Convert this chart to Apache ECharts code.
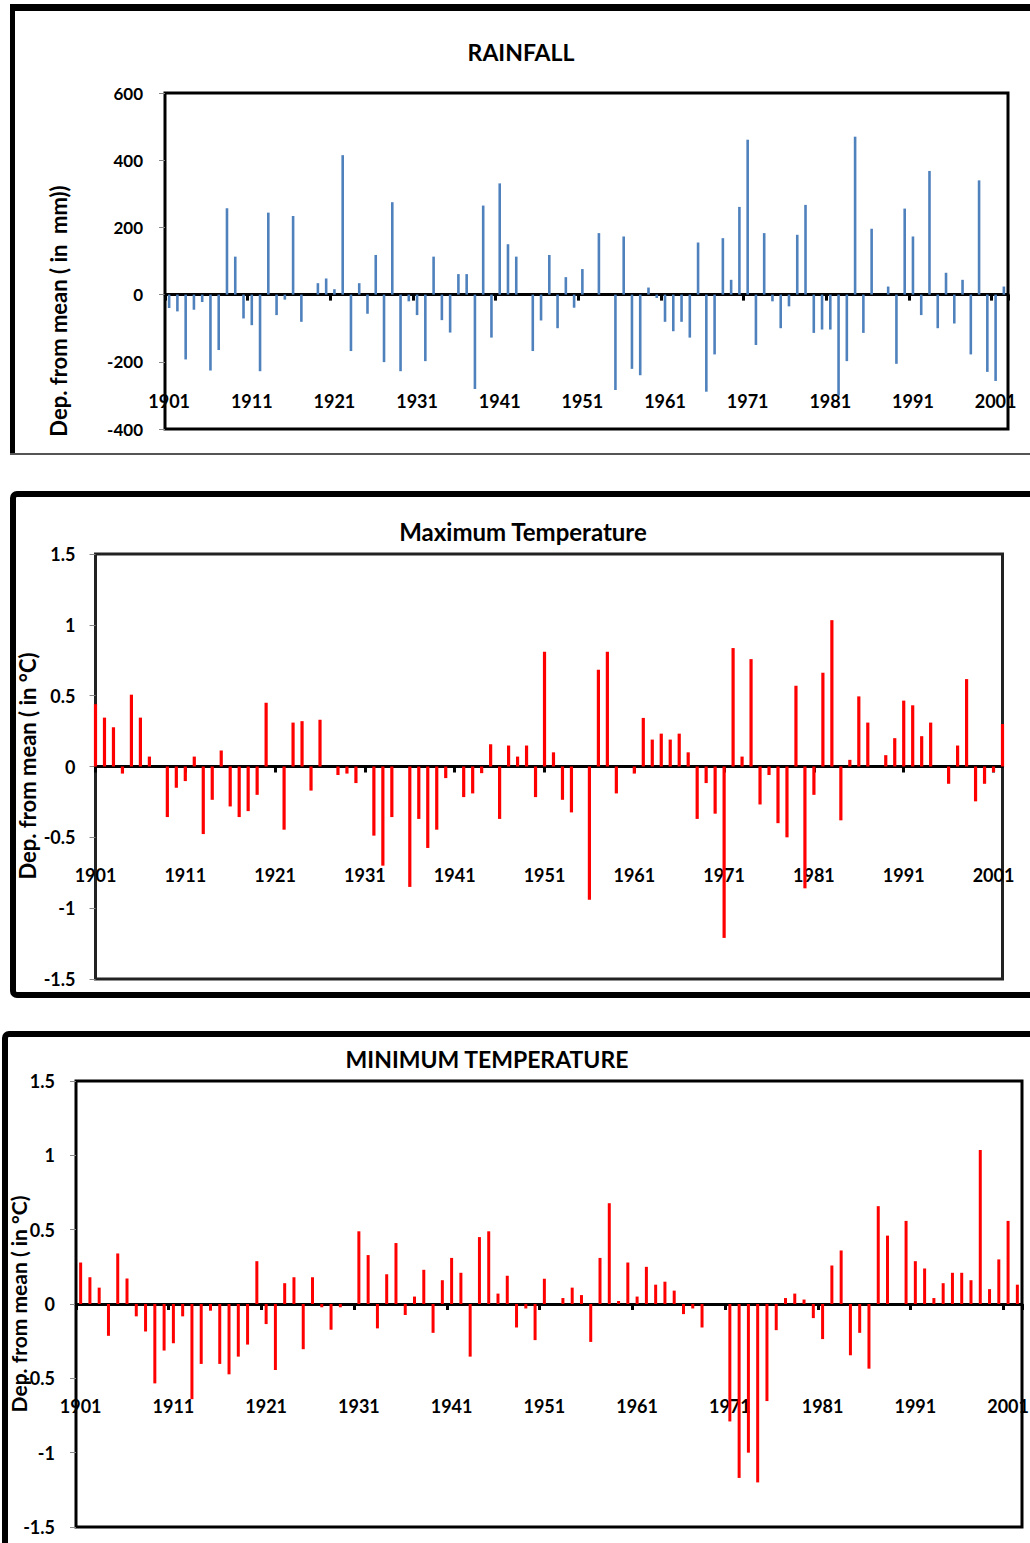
<!DOCTYPE html>
<html>
<head>
<meta charset="utf-8">
<script src="https://cdn.jsdelivr.net/npm/echarts@6/dist/echarts.min.js"></script>
<style>
html,body{margin:0;padding:0;background:#fff;}
#c{width:1030px;height:1543px;}
</style>
</head>
<body>
<div id="c"></div>
<script>
// Categories: years 1901-2002
var years = [];
for (var y = 1901; y <= 2002; y++) years.push(String(y));

// Titles
var titles = ['RAINFALL', 'Maximum Temperature', 'MINIMUM TEMPERATURE'];
var yTitles = ['Dep. from mean ( in  mm))', 'Dep. from mean ( in °C)', 'Dep. from mean ( in °C)'];

// Rainfall departure (mm)
var rainfall = [
 -40, -50, -193, -45, -22, -226, -165, 257, 113, -71,
 -91, -228, 244, -61, -15, 234, -81, 0, 34, 48,
 16, 415, -168, 34, -57, 118, -201, 275, -228, -20,
 -61, -198, 113, -76, -113, 61, 61, -281, 265, -128,
 331, 150, 113, 0, -168, -77, 118, -100, 52, -39,
 76, 0, 183, 0, -284, 173, -221, -240, 21, -10,
 -81, -109, -81, -128, 155, -289, -178, 168, 44, 261,
 461, -150, 183, -20, -100, -35, 178, 267, -114, -104,
 -104, -300, -198, 470, -114, 196, 0, 24, -206, 256,
 173, -61, 368, -100, 65, -86, 44, -178, 340, -230,
 -257, 24
];

// Maximum temperature departure (°C)
var maxTemp = [
 0.44, 0.345, 0.277, -0.05, 0.507, 0.345, 0.07, 0, -0.357, -0.15,
 -0.103, 0.07, -0.477, -0.235, 0.113, -0.282, -0.357, -0.315, -0.20, 0.45,
 0, -0.446, 0.31, 0.32, -0.17, 0.33, 0, -0.06, -0.05, -0.117,
 0, -0.488, -0.70, -0.357, 0, -0.85, -0.37, -0.575, -0.446, -0.082,
 0, -0.216, -0.19, -0.047, 0.157, -0.37, 0.148, 0.07, 0.148, -0.216,
 0.81, 0.10, -0.235, -0.324, 0, -0.94, 0.683, 0.81, -0.19, 0,
 -0.05, 0.343, 0.19, 0.232, 0.19, 0.232, 0.10, -0.37, -0.117, -0.333,
 -1.21, 0.836, 0.07, 0.758, -0.268, -0.06, -0.40, -0.50, 0.57, -0.86,
 -0.2, 0.662, 1.033, -0.38, 0.047, 0.495, 0.31, 0, 0.08, 0.20,
 0.465, 0.432, 0.214, 0.31, 0, -0.122, 0.148, 0.617, -0.246, -0.122,
 -0.04, 0.30
];

// Minimum temperature departure (°C)
var minTemp = [
 0.279, 0.18, 0.11, -0.214, 0.34, 0.171, -0.083, -0.185, -0.534, -0.313,
 -0.264, -0.083, -0.64, -0.403, -0.045, -0.403, -0.473, -0.354, -0.273, 0.288,
 -0.135, -0.444, 0.14, 0.18, -0.304, 0.18, -0.022, -0.173, -0.022, 0,
 0.489, 0.329, -0.164, 0.20, 0.41, -0.074, 0.05, 0.23, -0.194, 0.16,
 0.31, 0.21, -0.354, 0.45, 0.489, 0.07, 0.19, -0.158, -0.03, -0.243,
 0.17, 0, 0.04, 0.11, 0.06, -0.255, 0.31, 0.678, 0.02, 0.279,
 0.05, 0.25, 0.13, 0.15, 0.09, -0.068, -0.03, -0.158, 0, 0,
 -0.79, -1.17, -1.0, -1.2, -0.653, -0.176, 0.04, 0.07, 0.03, -0.095,
 -0.236, 0.259, 0.36, -0.345, -0.194, -0.435, 0.658, 0.46, 0, 0.559,
 0.288, 0.239, 0.04, 0.14, 0.21, 0.21, 0.16, 1.036, 0.10, 0.30,
 0.559, 0.13
];

// Y axis scales
var rainAxis = {min: -400, max: 600, interval: 200};
var tempAxis = {min: -1.5, max: 1.5, interval: 0.5};

var FONT = 'Lato, "Open Sans", sans-serif';
var chart = echarts.init(document.getElementById('c'), null, {renderer: 'svg', width: 1030, height: 1543});

function xAx(gi, gap, margin) {
  return {
    type: 'category', gridIndex: gi, data: years, boundaryGap: gap,
    axisLine: {show: true, onZero: true, lineStyle: {color: '#000', width: 3}},
    axisTick: {show: true, interval: 9, alignWithLabel: false, length: 6, lineStyle: {color: '#000', width: 3}},
    axisLabel: {interval: 9, margin: margin, color: '#000', fontFamily: FONT, fontWeight: 'bold', fontSize: 18},
    splitLine: {show: false}
  };
}
function yAx(gi, sc, margin, fs) {
  return {
    type: 'value', gridIndex: gi, min: sc.min, max: sc.max, interval: sc.interval,
    axisLine: {show: false},
    axisTick: {show: true, length: 6, lineStyle: {color: '#888', width: 1}},
    axisLabel: {margin: margin, color: '#000', fontFamily: FONT, fontWeight: 'bold', fontSize: fs},
    splitLine: {show: false}
  };
}

var option = {
  animation: false,
  backgroundColor: '#fff',
  grid: [
    {left: 165, top: 93, width: 843, height: 336, show: true, borderColor: '#000', borderWidth: 3, backgroundColor: 'transparent', outerBoundsMode: 'none', containLabel: false},
    {left: 95.5, top: 554, width: 907, height: 425, show: true, borderColor: '#222', borderWidth: 3, backgroundColor: 'transparent', outerBoundsMode: 'none', containLabel: false},
    {left: 76, top: 1081, width: 946, height: 446, show: true, borderColor: '#000', borderWidth: 3, backgroundColor: 'transparent', outerBoundsMode: 'none', containLabel: false}
  ],
  xAxis: [xAx(0, true, -37), xAx(1, false, -113), xAx(2, true, -130)],
  yAxis: [yAx(0, rainAxis, 22, 17), yAx(1, tempAxis, 20, 18), yAx(2, tempAxis, 21, 18)],
  series: [
    {type: 'bar', xAxisIndex: 0, yAxisIndex: 0, data: rainfall, barWidth: 2.6, itemStyle: {color: '#4F81BD'}},
    {type: 'bar', xAxisIndex: 1, yAxisIndex: 1, data: maxTemp, barWidth: 3.2, itemStyle: {color: '#FF0000'}},
    {type: 'bar', xAxisIndex: 2, yAxisIndex: 2, data: minTemp, barWidth: 3, itemStyle: {color: '#FF0000'}}
  ],
  graphic: [
    // panel 1 frame
    {type: 'line', shape: {x1: 10, y1: 7.5, x2: 1040, y2: 7.5}, style: {stroke: '#000', lineWidth: 7}},
    {type: 'line', shape: {x1: 12.5, y1: 4, x2: 12.5, y2: 454}, style: {stroke: '#000', lineWidth: 5}},
    {type: 'line', shape: {x1: 10, y1: 454, x2: 1040, y2: 454}, style: {stroke: '#555', lineWidth: 2}},
    // panel 2 frame
    {type: 'rect', shape: {x: 13, y: 494, width: 1040, height: 501, r: 4}, style: {fill: 'none', stroke: '#000', lineWidth: 6}},
    // panel 3 frame
    {type: 'rect', shape: {x: 5, y: 1034, width: 1040, height: 540, r: 4}, style: {fill: 'none', stroke: '#000', lineWidth: 6}},
    // titles
    {type: 'text', x: 521, y: 52, style: {text: titles[0], font: 'bold 23px ' + FONT, fill: '#000', align: 'center', verticalAlign: 'middle'}},
    {type: 'text', x: 523, y: 531, style: {text: titles[1], font: 'bold 24px ' + FONT, fill: '#000', align: 'center', verticalAlign: 'middle'}},
    {type: 'text', x: 487, y: 1059, style: {text: titles[2], font: 'bold 23px ' + FONT, fill: '#000', align: 'center', verticalAlign: 'middle'}},
    // y-axis titles
    {type: 'text', x: 58, y: 311, rotation: Math.PI / 2, style: {text: yTitles[0], font: 'bold 22px ' + FONT, fill: '#000', align: 'center', verticalAlign: 'middle'}},
    {type: 'text', x: 27, y: 766, rotation: Math.PI / 2, style: {text: yTitles[1], font: 'bold 22px ' + FONT, fill: '#000', align: 'center', verticalAlign: 'middle'}},
    {type: 'text', x: 18, y: 1304, rotation: Math.PI / 2, style: {text: yTitles[2], font: 'bold 21px ' + FONT, fill: '#000', align: 'center', verticalAlign: 'middle'}}
  ]
};
chart.setOption(option);
</script>
</body>
</html>
